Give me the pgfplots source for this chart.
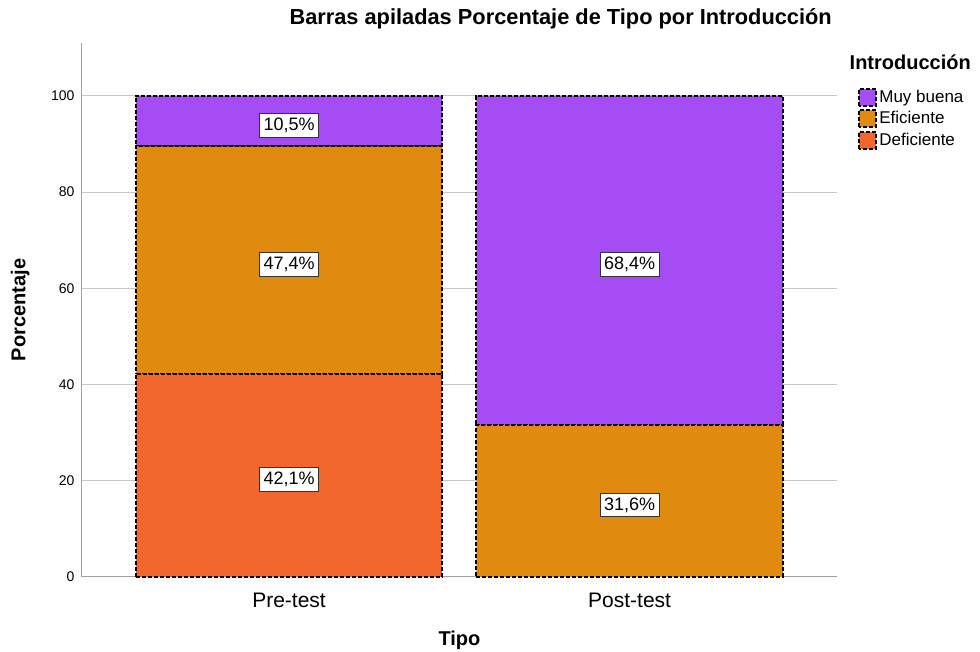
\documentclass[border=0pt]{standalone}
\usepackage{pgfplots}
\pgfplotsset{compat=1.18}
\usepackage{fontspec}
\setmainfont{Liberation Sans}
\definecolor{cMuy}{RGB}{166,76,244}
\definecolor{cEfi}{RGB}{224,138,16}
\definecolor{cDef}{RGB}{242,104,44}
\definecolor{gridc}{RGB}{200,200,200}
\definecolor{axc}{RGB}{160,160,160}
\tikzset{barborder/.style={draw=black, line width=2pt, dash pattern=on 4pt off 2pt}}
\pgfplotsset{
  common/.style={scale only axis, width=755pt, height=534pt,
    at={(0pt,0pt)}, anchor=south west,
    xmin=-0.608, xmax=1.609, ymin=0, ymax=111},
}
\begin{document}
\begin{tikzpicture}
\path[use as bounding box] (-82pt,-75pt) rectangle (898pt,577pt);
\begin{axis}[
  common,
  ybar stacked, bar width=0.9,
  axis x line*=bottom, axis y line*=left,
  axis line style={draw=axc, line width=1pt, -},
  xtick={0,1}, xticklabels={Pre-test,Post-test},
  ytick={0,20,40,60,80,100},
  major tick length=0pt,
  ymajorgrids, grid style={gridc, line width=1pt},
  xticklabel style={font=\fontsize{21}{24}\selectfont, anchor=center, yshift=-23pt},
  yticklabel style={font=\fontsize{14}{16}\selectfont, anchor=east, xshift=-4pt},
  /pgf/number format/assume math mode=true,
  xlabel={Tipo}, ylabel={Porcentaje},
  xlabel style={font=\bfseries\fontsize{20}{24}\selectfont, at={(axis description cs:0.5,-0.118)}, anchor=center},
  ylabel style={font=\bfseries\fontsize{20}{24}\selectfont, at={(axis description cs:-0.082,0.5)}, anchor=center, rotate=0},
  title={Barras apiladas Porcentaje de Tipo por Introducción},
  title style={font=\bfseries\fontsize{21.8}{24}\selectfont, at={(axis description cs:0.634,1.034)}, anchor=center},
  legend style={at={(axis description cs:1.028,0.917)}, anchor=north west, draw=none, fill=none,
    font=\fontsize{17}{20}\selectfont, row sep=2.5pt, cells={anchor=west}, inner sep=0pt},
  reverse legend,
  clip=false,
]
\addplot[fill=cDef, barborder,
  legend image code/.code={\draw[fill=cDef, barborder] (0pt,-8.5pt) rectangle (17pt,8.5pt);}]
  coordinates {(0,42.1) (1,0)};
\addlegendentry{Deficiente}
\addplot[fill=cEfi, barborder,
  legend image code/.code={\draw[fill=cEfi, barborder] (0pt,-8.5pt) rectangle (17pt,8.5pt);}]
  coordinates {(0,47.4) (1,31.6)};
\addlegendentry{Eficiente}
\addplot[fill=cMuy, barborder,
  legend image code/.code={\draw[fill=cMuy, barborder] (0pt,-8.5pt) rectangle (17pt,8.5pt);}]
  coordinates {(0,10.5) (1,68.4)};
\addlegendentry{Muy buena}
\node[font=\bfseries\fontsize{20}{24}\selectfont] at (rel axis cs:1.097,0.964) {Introducción};
\end{axis}
\begin{axis}[common, hide axis, clip=false]
\addplot[only marks, mark=*, mark size=0pt, draw=none,
  nodes near coords, point meta=explicit symbolic,
  nodes near coords align={center},
  every node near coord/.append style={anchor=center, yshift=-4pt, draw=black!80, solid, fill=white, line width=1pt,
    font=\fontsize{18}{20}\selectfont, inner xsep=4pt, inner ysep=4.5pt}]
  coordinates {(0,21.05) [42,1\%] (0,65.8) [47,4\%] (0,94.75) [10,5\%] (1,15.8) [31,6\%] (1,65.8) [68,4\%]};
\end{axis}
\end{tikzpicture}
\end{document}
